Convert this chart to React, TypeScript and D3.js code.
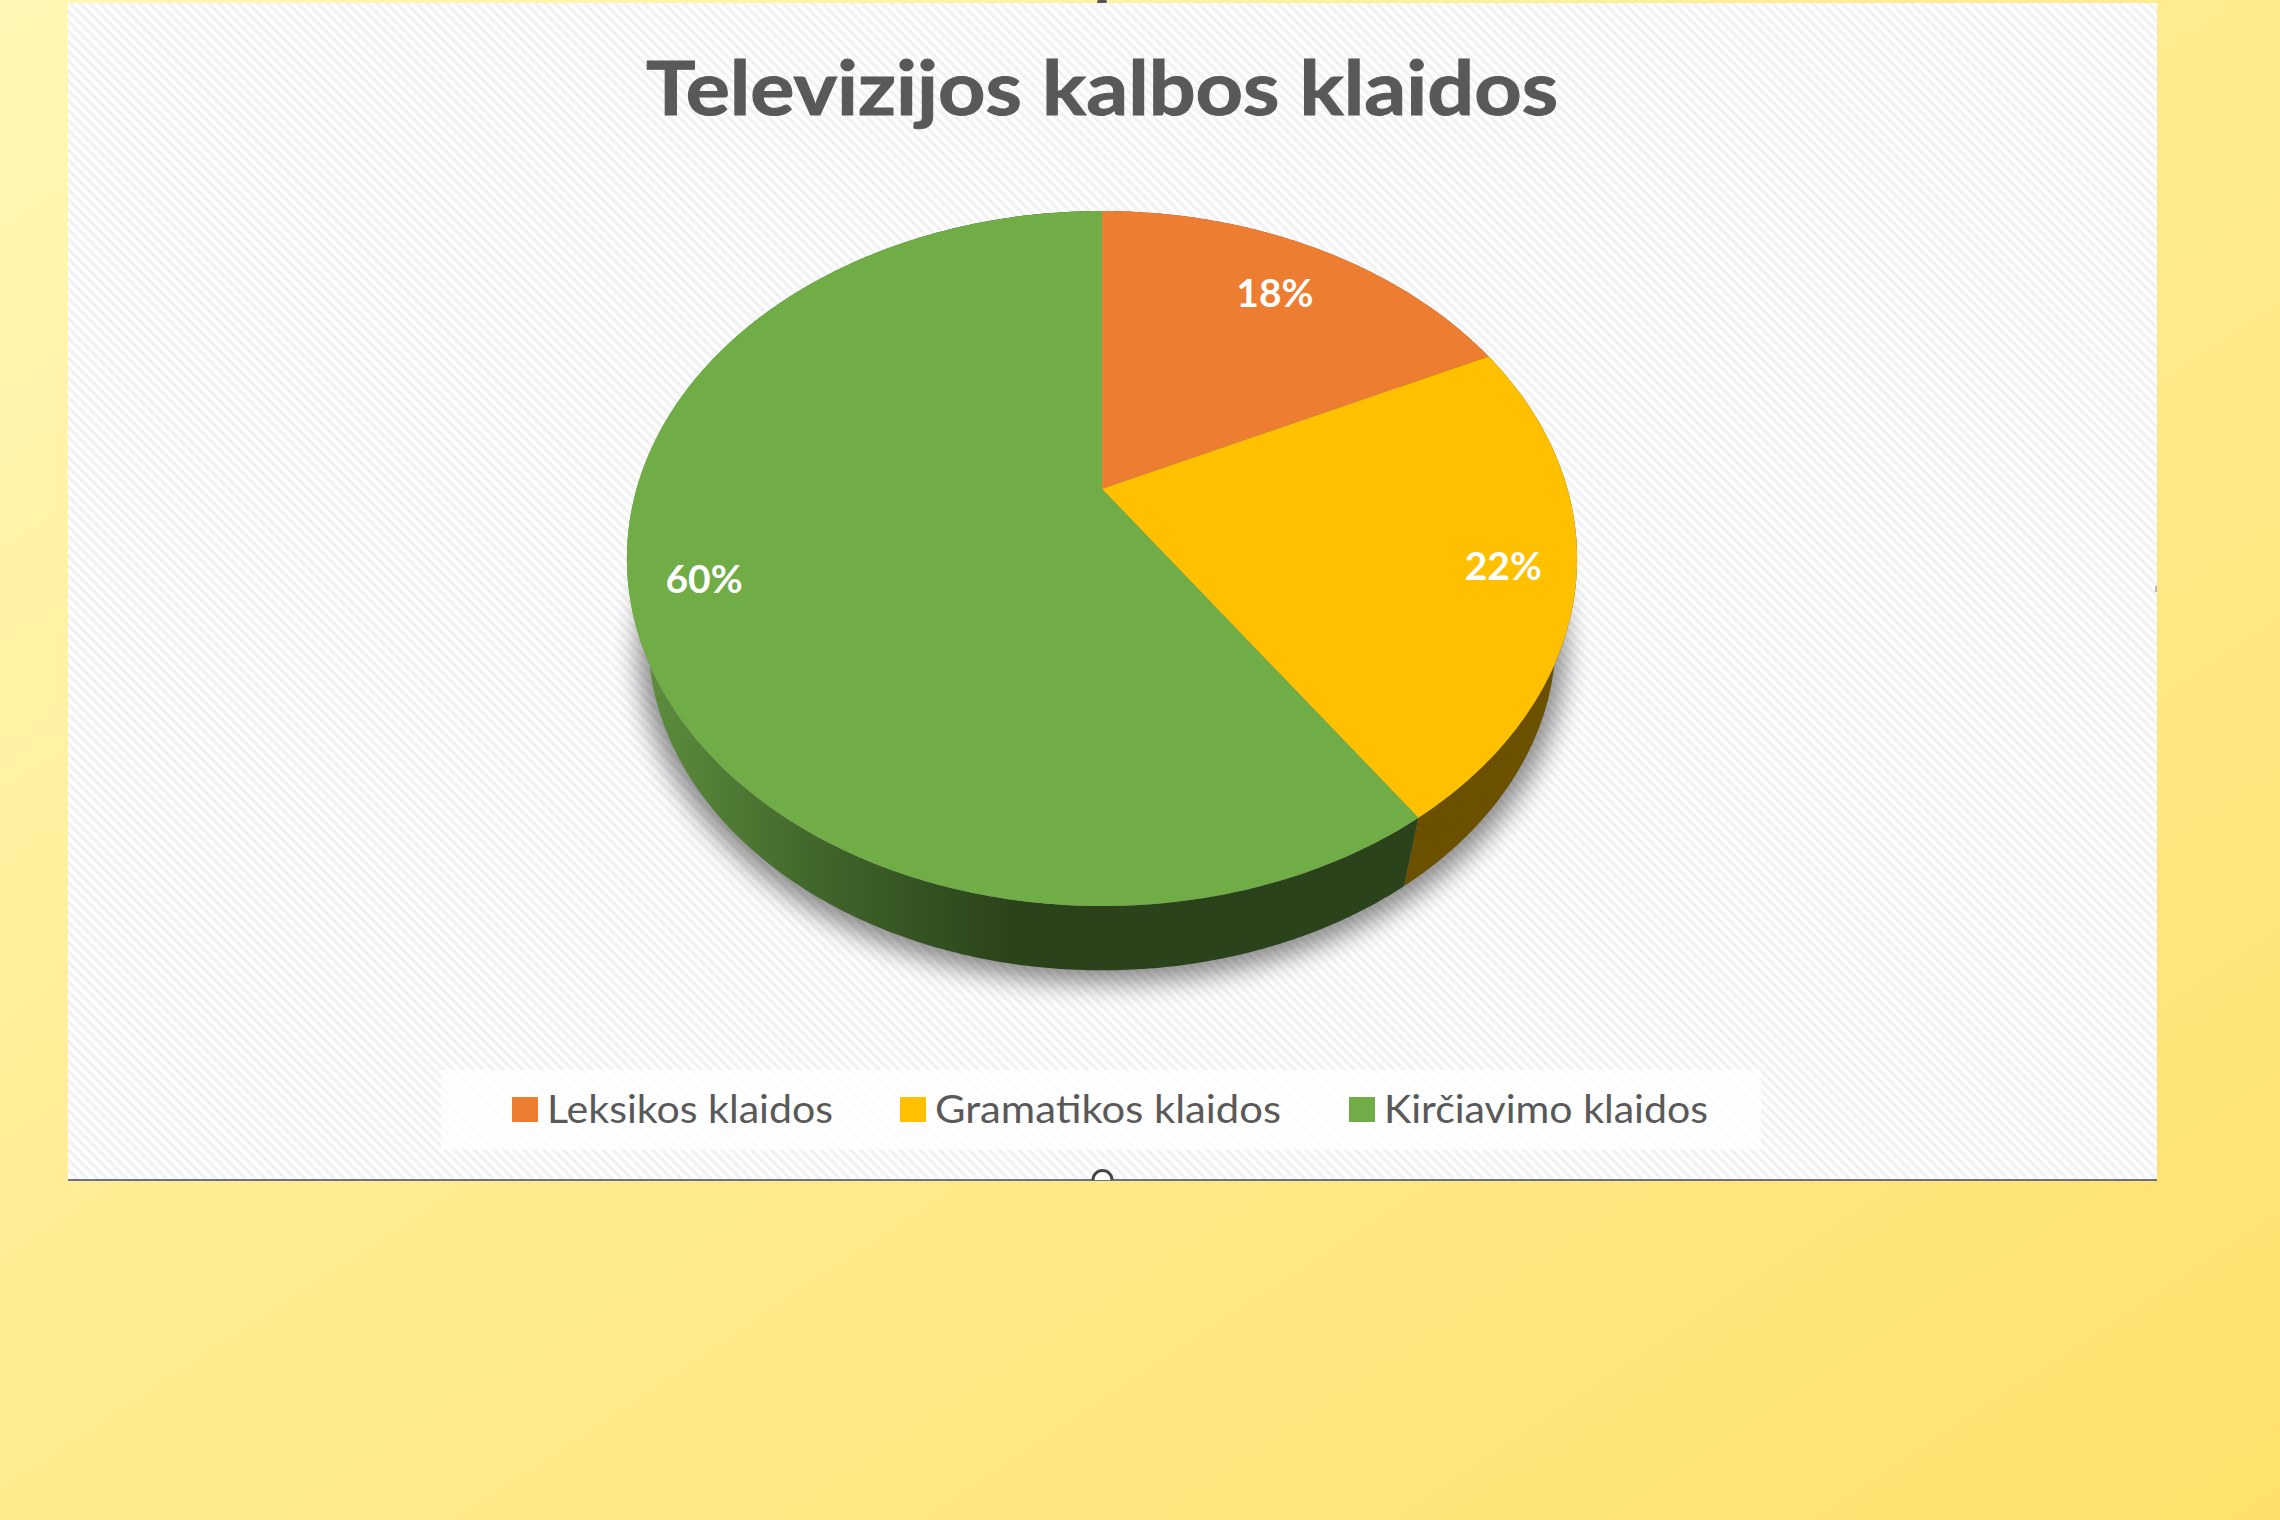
import React from "react";
import * as d3 from "d3";

const titleText = "Televizijos kalbos klaidos";
const categories = ["Leksikos klaidos", "Gramatikos klaidos", "Kirčiavimo klaidos"];
const shares = [17.9, 22.49, 59.61];
const topColors = ["#ED7D31", "#FFC000", "#70AD47"];
const labelRadii = [0.79, 0.853, 0.85];
const legendSwatchX = [512, 900, 1349];
const legendTextX = [547, 935, 1384];
const legendTextWidth = [286, 346, 324];

const W = 2280, H = 1520;
const cx = 1102, apexY = 489, persp = -0.2, sx = 465.5, sy = 333.6;
const ellipseCy = 558.5, depthScale = 0.955, bottomCy = 638.5;
const FONT = "Lato, Carlito, 'Open Sans', sans-serif";

const project = (a: number, r = 1) => {
  const u = Math.sin(a) * r, v = -Math.cos(a) * r;
  const d = 1 + persp * v;
  return [cx + (sx * u) / d, apexY + (sy * v) / d] as [number, number];
};
const projectBottom = (a: number) => {
  const [x, y] = project(a);
  return [cx + (x - cx) * depthScale, bottomCy + (y - ellipseCy) * depthScale] as [number, number];
};
const samples = (a0: number, a1: number) => {
  const n = Math.max(2, Math.ceil((a1 - a0) / 0.01));
  return d3.range(n + 1).map((i) => a0 + ((a1 - a0) * i) / n);
};

export default function App() {
  const arcs = d3.pie<number>().sort(null).value((d) => d)(shares);
  const line = d3.line();
  const pct = d3.format(".0f");
  return (
    <svg width={W} height={H} viewBox={`0 0 ${W} ${H}`} style={{ position: "absolute", left: 0, top: 0 }}>
      <defs>
        <linearGradient id="bg" x1="0" y1="0" x2="1" y2="1">
          <stop offset="0" stopColor="#FFF8B4" />
          <stop offset="0.5" stopColor="#FFEB8E" />
          <stop offset="1" stopColor="#FFE06C" />
        </linearGradient>
        <pattern id="stripes" width="7" height="7" patternUnits="userSpaceOnUse" patternTransform="rotate(45)">
          <rect width="7" height="7" fill="#FFFFFF" />
          <rect width="7" height="3.5" fill="#F2F2F4" />
        </pattern>
        <linearGradient id="greenSide" gradientUnits="userSpaceOnUse" x1="640" y1="0" x2="1010" y2="0">
          <stop offset="0" stopColor="#5E8F3E" />
          <stop offset="0.5" stopColor="#40642A" />
          <stop offset="1" stopColor="#2B431A" />
        </linearGradient>
        <filter id="blur" x="-15%" y="-15%" width="130%" height="130%">
          <feGaussianBlur stdDeviation="13" />
        </filter>
      </defs>

      <rect width={W} height={H} fill="url(#bg)" />
      <rect x={68} y={3} width={2089} height={1177} fill="url(#stripes)" />
      <line x1={68} x2={2157} y1={1180} y2={1180} stroke="#6E7280" strokeWidth={2} />
      <path d="M1093 1180 A9.5 9.5 0 0 1 1112 1180" fill="#FFFFFF" stroke="#444" strokeWidth={3} />
      <rect x={1097} y={0} width={10} height={3} rx={1.5} fill="#555" />
      <rect x={2155} y={586} width={2} height={6} fill="#BBB" />

      <text x={1102} y={115} textAnchor="middle" fontFamily={FONT} fontWeight={700} fontSize={74}
        fill="#595959" stroke="#595959" strokeWidth={1} textLength={912} lengthAdjust="spacingAndGlyphs">{titleText}</text>

      <ellipse cx={cx} cy={bottomCy + 8} rx={475 * depthScale + 10} ry={347.5 * depthScale + 5}
        fill="#000" opacity={0.45} filter="url(#blur)" />

      {arcs.map((arc, i) => {
        const angles = samples(arc.startAngle, arc.endAngle);
        const pts = [...angles.map((a) => project(a)), ...angles.slice().reverse().map((a) => projectBottom(a))];
        const fill = i === 2 ? "url(#greenSide)" : i === 1 ? "#6B5000" : "#8A4A1C";
        return <path key={`s${i}`} d={line(pts) + "Z"} fill={fill} />;
      })}
      {arcs.map((arc, i) => {
        const pts = [project(0, 0), ...samples(arc.startAngle, arc.endAngle).map((a) => project(a))];
        return <path key={`t${i}`} d={line(pts) + "Z"} fill={topColors[i]} />;
      })}
      {arcs.map((arc, i) => {
        const [x, y] = project((arc.startAngle + arc.endAngle) / 2, labelRadii[i]);
        return (
          <text key={`l${i}`} x={x} y={y} dy="0.38em" textAnchor="middle" fontFamily={FONT} fontWeight={700}
            fontSize={39} fill="#FFFFFF">{pct(shares[i])}%</text>
        );
      })}

      <rect x={441} y={1070} width={1320} height={80} fill="#FFFFFF" opacity={0.75} />
      {categories.map((c, i) => (
        <g key={c}>
          <rect x={legendSwatchX[i]} y={1097} width={26} height={25} fill={topColors[i]} />
          <text x={legendTextX[i]} y={1123} fontFamily={FONT} fontSize={39} fill="#595959"
            textLength={legendTextWidth[i]} lengthAdjust="spacingAndGlyphs">{c}</text>
        </g>
      ))}
    </svg>
  );
}
